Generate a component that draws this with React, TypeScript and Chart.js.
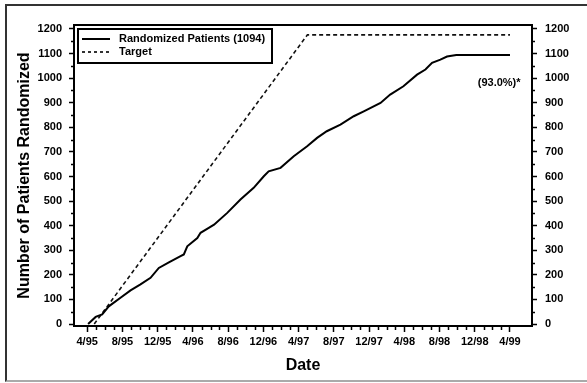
import React, { useEffect, useRef } from "react";
import { Chart, registerables } from "chart.js";

Chart.register(...registerables);

// Months since April 1995 (0 = 4/95)
const actualMonths = [0.1, 0.96, 1.7, 2.45, 3.78, 4.92, 6.05, 7.19, 8.13, 9.27, 10.6, 10.97, 11.36, 12.5, 12.87, 13.8, 14.4, 15.9, 17.4, 18.9, 20.05, 20.6, 21.95, 23.45, 24.97, 26.1, 27.2, 28.75, 30.26, 31.4, 33.3, 34.4, 35.9, 37.45, 38.4, 39.15, 40.1, 40.85, 41.9, 48];
const actualCounts = [0, 29, 39, 72, 107, 137, 161, 188, 228, 251, 276, 283, 316, 350, 371, 391, 404, 452, 506, 554, 601, 621, 635, 682, 723, 757, 784, 811, 845, 865, 899, 933, 967, 1014, 1035, 1062, 1075, 1088, 1094, 1094];

const targetMonths = [0.8, 25, 48];
const targetCounts = [0, 1176, 1176];

const xTickLabels = ["4/95", "8/95", "12/95", "4/96", "8/96", "12/96", "4/97", "8/97", "12/97", "4/98", "8/98", "12/98", "4/99"];
const yTickValues = [0, 100, 200, 300, 400, 500, 600, 700, 800, 900, 1000, 1100, 1200];

const seriesNames = ["Randomized Patients (1094)", "Target"];
const noteText = "(93.0%)*";

const FONT = "'Liberation Sans', Arial, sans-serif";

const overlayPlugin = {
  id: "overlay",
  afterDraw(chart: any) {
    const ctx = chart.ctx;
    const area = chart.chartArea;
    const xs = chart.scales.x;
    const ys = chart.scales.y;
    ctx.save();
    ctx.strokeStyle = "#000";
    // top frame line
    ctx.lineWidth = 2;
    ctx.beginPath();
    ctx.moveTo(area.left - 1, area.top);
    ctx.lineTo(area.right + 1, area.top);
    ctx.stroke();
    // minor ticks
    ctx.lineWidth = 1.5;
    ctx.beginPath();
    for (let m = 1; m < 48; m++) {
      if (m % 4 === 0) continue;
      const px = Math.round(xs.getPixelForValue(m)) + 0.5;
      ctx.moveTo(px, area.bottom);
      ctx.lineTo(px, area.bottom + 4);
    }
    for (let v = 50; v < 1200; v += 100) {
      const py = Math.round(ys.getPixelForValue(v)) + 0.5;
      ctx.moveTo(area.left - 3, py);
      ctx.lineTo(area.left, py);
      ctx.moveTo(area.right, py);
      ctx.lineTo(area.right + 3, py);
    }
    ctx.stroke();
    // legend
    const lx = area.left + 3;
    const ly = area.top + 3;
    const lw = 196;
    const lh = 36;
    ctx.lineWidth = 2;
    ctx.strokeRect(lx + 1, ly + 1, lw - 2, lh - 2);
    const rows = [ly + 11, ly + 24];
    ctx.lineWidth = 2;
    ctx.beginPath();
    ctx.moveTo(lx + 5, rows[0]);
    ctx.lineTo(lx + 33, rows[0]);
    ctx.stroke();
    ctx.lineWidth = 1.6;
    ctx.setLineDash([3, 3]);
    ctx.beginPath();
    ctx.moveTo(lx + 5, rows[1]);
    ctx.lineTo(lx + 33, rows[1]);
    ctx.stroke();
    ctx.setLineDash([]);
    ctx.fillStyle = "#000";
    ctx.font = `bold 11px ${FONT}`;
    ctx.textAlign = "left";
    ctx.textBaseline = "middle";
    ctx.fillText(seriesNames[0], lx + 42, rows[0]);
    ctx.fillText(seriesNames[1], lx + 42, rows[1]);
    // note
    ctx.textAlign = "right";
    ctx.fillText(noteText, xs.getPixelForValue(49.2), ys.getPixelForValue(982));
    ctx.restore();
  },
};

export default function App() {
  const ref = useRef<HTMLCanvasElement | null>(null);
  useEffect(() => {
    if (!ref.current) return;
    const tickFont = { family: FONT, size: 11, weight: "bold" as const };
    const titleFont = { family: FONT, size: 16, weight: "bold" as const };
    const yCommon = {
      type: "linear" as const,
      min: -8,
      max: 1216,
      afterBuildTicks: (s: any) => {
        s.ticks = yTickValues.map((v) => ({ value: v }));
      },
      grid: { drawOnChartArea: false, drawTicks: true, tickLength: 5, tickWidth: 1.5, color: "#000" },
      border: { display: true, color: "#000", width: 2 },
    };
    const chart = new Chart(ref.current, {
      type: "line",
      data: {
        datasets: [
          {
            label: seriesNames[0],
            data: actualMonths.map((m, i) => ({ x: m, y: actualCounts[i] })),
            borderColor: "#000",
            borderWidth: 2,
            pointRadius: 0,
            fill: false,
            tension: 0,
          },
          {
            label: seriesNames[1],
            data: targetMonths.map((m, i) => ({ x: m, y: targetCounts[i] })),
            borderColor: "#111",
            borderWidth: 1.6,
            borderDash: [4, 3],
            pointRadius: 0,
            fill: false,
            tension: 0,
          },
        ],
      },
      options: {
        animation: false,
        responsive: false,
        devicePixelRatio: 1,
        layout: { padding: { top: 25, left: 0, right: 0, bottom: 0 } },
        plugins: { legend: { display: false }, tooltip: { enabled: false } },
        scales: {
          x: {
            type: "linear",
            min: -1.5,
            max: 50.5,
            afterBuildTicks: (s: any) => {
              s.ticks = xTickLabels.map((_, i) => ({ value: i * 4 }));
            },
            afterFit: (s: any) => {
              s.height = 57;
            },
            ticks: {
              font: tickFont,
              color: "#000",
              maxRotation: 0,
              autoSkip: false,
              padding: 3,
              callback: (v: any) => xTickLabels[Math.round(Number(v) / 4)] ?? "",
            },
            grid: { drawOnChartArea: false, drawTicks: true, tickLength: 6, tickWidth: 1.5, color: "#000" },
            border: { display: true, color: "#000", width: 2 },
            title: { display: true, text: "Date", font: titleFont, color: "#000", padding: { top: 0, bottom: 8 } },
          },
          y: {
            ...yCommon,
            position: "left",
            afterFit: (s: any) => {
              s.width = 74;
            },
            ticks: { font: tickFont, color: "#000", padding: 7, callback: (v: any) => String(v) },
            title: {
              display: true,
              text: "Number of Patients Randomized",
              font: titleFont,
              color: "#000",
              padding: { top: 15, bottom: 0 },
            },
          },
          y2: {
            ...yCommon,
            position: "right",
            afterFit: (s: any) => {
              s.width = 55;
            },
            ticks: { font: tickFont, color: "#000", padding: 8, callback: (v: any) => String(v) },
          },
        },
      },
      plugins: [overlayPlugin],
    });
    return () => chart.destroy();
  }, []);

  return (
    <div style={{ position: "fixed", left: 0, top: 0, width: 587, height: 383, background: "#fff", overflow: "hidden" }}>
      <canvas ref={ref} width={587} height={383} style={{ position: "absolute", left: 0, top: 0, width: 587, height: 383 }} />
      <div
        style={{
          position: "absolute",
          left: 5,
          top: 4,
          width: 600,
          height: 378,
          boxSizing: "border-box",
          borderLeft: "2px solid #333",
          borderTop: "2px solid #333",
          borderBottom: "2px solid #aaa",
          pointerEvents: "none",
        }}
      />
    </div>
  );
}
